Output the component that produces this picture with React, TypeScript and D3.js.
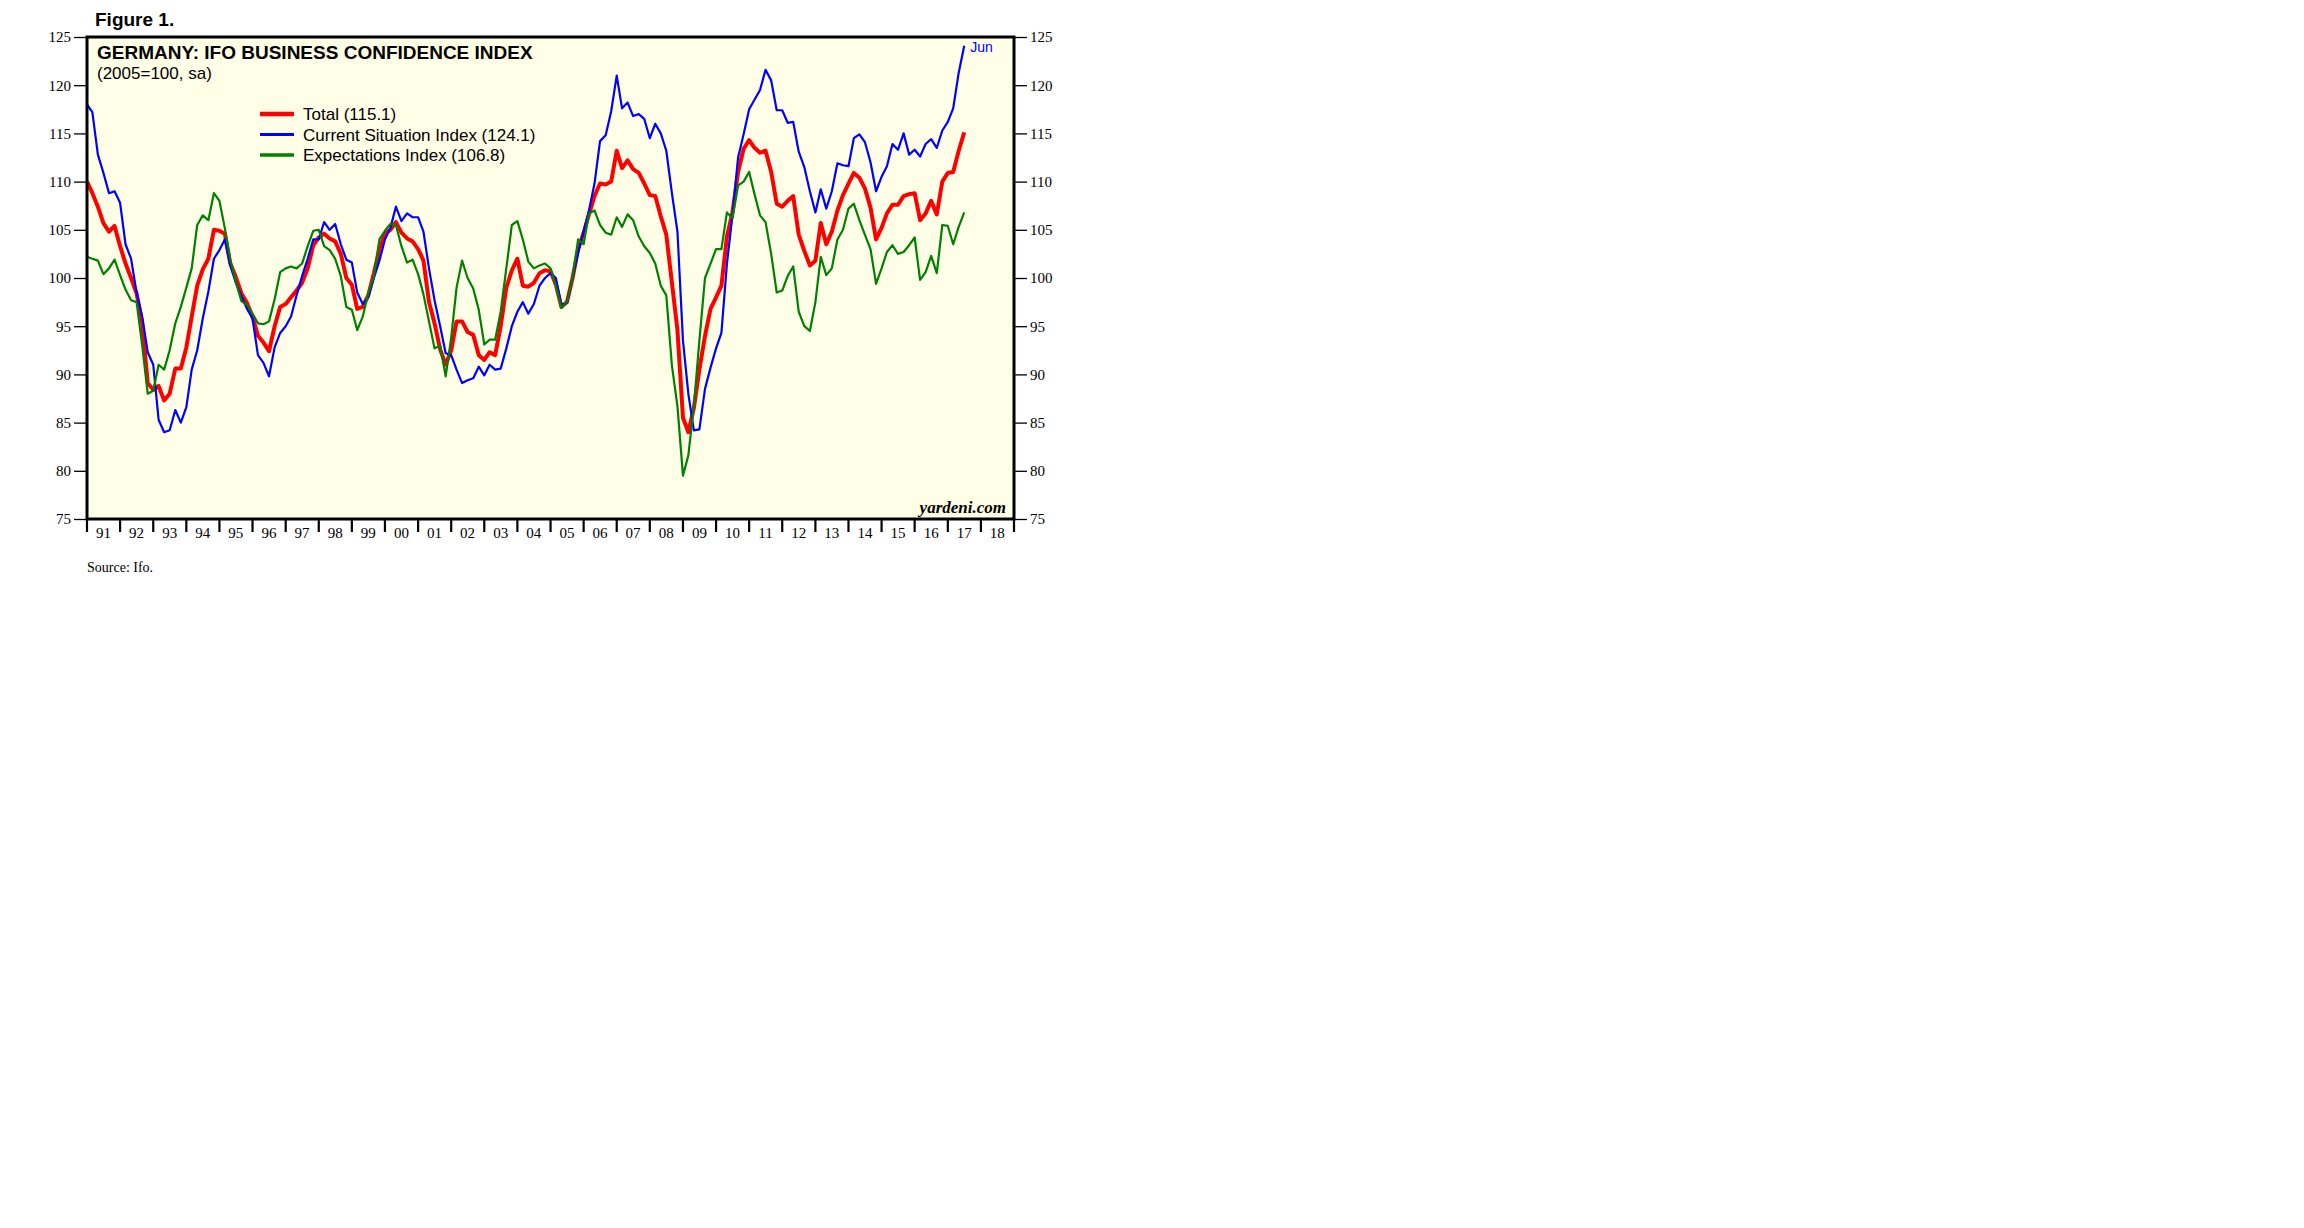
import React, { useEffect, useRef } from 'react';
import * as d3 from 'd3';

// Ifo indexes (2005=100, sa), read every second month, Jan 1991 .. Jun 2017
const total = [
  110.0, 108.8, 107.4, 105.7, 104.8, 105.4, // 91
  103.3, 101.5, 100.0, 98.4, 95.3, 89.1, // 92
  88.4, 88.8, 87.3, 88.0, 90.6, 90.6, // 93
  92.8, 96.0, 99.2, 100.9, 102.0, 105.0, // 94
  104.9, 104.6, 101.5, 100.1, 98.4, 97.4, // 95
  96.0, 94.0, 93.3, 92.4, 95.0, 97.0, // 96
  97.3, 98.0, 98.7, 99.5, 101.0, 103.4, // 97
  104.2, 104.6, 104.1, 103.8, 102.5, 100.0, // 98
  99.3, 96.8, 97.0, 98.2, 100.5, 103.0, // 99
  104.6, 105.0, 105.8, 104.7, 104.1, 103.8, // 00
  103.0, 101.8, 97.5, 95.3, 92.6, 91.0, // 01
  92.5, 95.5, 95.5, 94.4, 94.1, 92.0, // 02
  91.5, 92.3, 92.0, 95.0, 99.0, 100.8, // 03
  102.0, 99.2, 99.1, 99.5, 100.5, 100.8, // 04
  100.7, 99.3, 97.0, 97.5, 100.0, 103.0, // 05
  104.7, 106.6, 108.5, 109.8, 109.7, 110.0, // 06
  113.2, 111.4, 112.2, 111.3, 110.9, 109.8, // 07
  108.6, 108.5, 106.4, 104.5, 99.5, 94.6, // 08
  85.5, 84.0, 86.5, 90.5, 94.0, 96.8, // 09
  98.0, 99.2, 104.3, 106.8, 111.0, 113.4, // 10
  114.3, 113.5, 113.0, 113.2, 111.0, 107.7, // 11
  107.4, 108.0, 108.5, 104.5, 102.8, 101.3, // 12
  101.8, 105.7, 103.5, 104.8, 107.0, 108.6, // 13
  109.8, 110.9, 110.4, 109.3, 107.3, 104.0, // 14
  105.2, 106.7, 107.6, 107.6, 108.5, 108.7, // 15
  108.8, 106.0, 106.7, 108.0, 106.6, 110.0, // 16
  110.9, 111.0, 113.2, 115.1, // 17
];

const current = [
  118.0, 117.2, 112.8, 110.9, 108.8, 109.0,
  107.8, 103.5, 102.0, 98.5, 96.0, 92.3,
  91.0, 85.3, 84.0, 84.2, 86.3, 85.0,
  86.6, 90.5, 92.5, 95.8, 98.6, 102.0,
  102.9, 104.0, 101.3, 99.5, 98.1, 96.8,
  95.8, 92.0, 91.2, 89.8, 92.8, 94.3,
  95.0, 96.0, 98.2, 100.2, 102.0, 104.0,
  104.0, 105.8, 105.0, 105.6, 103.5, 101.9,
  101.6, 98.5, 97.3, 98.0, 100.0, 101.8,
  104.0, 105.2, 107.4, 105.9, 106.7, 106.3,
  106.3, 104.8, 101.0, 97.7, 95.0, 92.2,
  92.0, 90.5, 89.1, 89.4, 89.6, 90.8,
  89.9, 91.0, 90.5, 90.6, 92.7, 95.0,
  96.5, 97.5, 96.3, 97.3, 99.2, 100.0,
  100.5, 100.0, 97.2, 97.4, 100.0, 102.6,
  104.8, 107.0, 109.8, 114.2, 114.8, 117.3,
  121.0, 117.6, 118.2, 116.8, 117.0, 116.5,
  114.5, 116.0, 115.0, 113.2, 108.8, 104.8,
  93.5, 88.0, 84.2, 84.3, 88.5, 90.7,
  92.7, 94.3, 101.5, 106.5, 112.5, 114.9,
  117.5, 118.5, 119.5, 121.6, 120.5, 117.4,
  117.4, 116.1, 116.2, 113.1, 111.5, 109.0,
  106.8, 109.2, 107.2, 109.0, 111.9, 111.7,
  111.6, 114.5, 114.9, 114.1, 112.0, 109.0,
  110.5, 111.6, 113.9, 113.3, 115.0, 112.8,
  113.3, 112.6, 113.9, 114.4, 113.5, 115.3,
  116.2, 117.6, 121.3, 124.1,
];

const expectations = [
  102.2, 102.0, 101.8, 100.4, 101.0, 101.9,
  100.3, 98.8, 97.7, 97.5, 93.0, 88.0,
  88.3, 91.0, 90.5, 92.5, 95.3, 97.0,
  99.0, 101.0, 105.5, 106.5, 106.0, 108.8,
  108.0, 105.2, 101.9, 99.6, 97.6, 97.2,
  96.3, 95.3, 95.2, 95.5, 97.8, 100.6,
  101.0, 101.2, 101.0, 101.5, 103.3, 104.9,
  105.0, 103.3, 102.9, 102.0, 100.2, 97.0,
  96.7, 94.6, 96.0, 98.4, 100.2, 104.0,
  104.9, 105.6, 105.5, 103.3, 101.6, 101.9,
  100.4, 98.3, 95.5, 92.7, 93.0, 89.8,
  93.8, 99.0, 101.8, 100.0, 98.9, 96.7,
  93.1, 93.6, 93.6, 96.5, 101.0, 105.5,
  105.9, 104.0, 101.7, 101.0, 101.3, 101.5,
  101.0, 99.2, 96.9, 97.5, 100.0, 104.0,
  103.5, 106.7, 107.0, 105.5, 104.7, 104.5,
  106.3, 105.3, 106.6, 106.0, 104.3, 103.3,
  102.6, 101.5, 99.2, 98.2, 90.9, 86.7,
  79.5, 81.6, 86.7, 93.5, 100.0, 101.5,
  103.0, 103.0, 106.8, 106.2, 109.6, 110.0,
  111.0, 108.7, 106.5, 105.8, 102.5, 98.5,
  98.7, 100.2, 101.2, 96.5, 95.0, 94.5,
  97.5, 102.2, 100.3, 101.0, 104.0, 105.0,
  107.2, 107.7, 106.0, 104.5, 103.0, 99.4,
  101.0, 102.7, 103.4, 102.5, 102.7, 103.4,
  104.2, 99.8, 100.6, 102.3, 100.5, 105.5,
  105.4, 103.5, 105.3, 106.8,
];

const dates = d3.range(0, 320, 2).map(m => new Date(1991, m, 1));
const years = d3.range(1991, 2019);
const yearLabels = years.map(yr => String(yr).slice(2));
const yTicks = d3.range(75, 126, 5);

const series = [
  { name: 'Total (115.1)', values: total, color: '#ff0000', width: 4, legendWidth: 4.5 },
  { name: 'Current Situation Index (124.1)', values: current, color: '#0000ff', width: 2.2, legendWidth: 2.8 },
  { name: 'Expectations Index (106.8)', values: expectations, color: '#008000', width: 2.2, legendWidth: 3.5 },
];

const SERIF = '"Liberation Serif", "Times New Roman", serif';
const SANS = '"Liberation Sans", Arial, sans-serif';

const App: React.FC = () => {
  const svgRef = useRef<SVGSVGElement>(null);

  useEffect(() => {
    if (!svgRef.current) return;
    const svg = d3.select(svgRef.current);
    svg.selectAll('*').remove();

    const left = 87, right = 1014, top = 37, bottom = 519;

    const x = d3.scaleTime()
      .domain([new Date(1991, 0, 1), new Date(2019, 0, 1)])
      .range([left, right]);
    const y = d3.scaleLinear().domain([75, 125]).range([bottom, top]);

    svg.append('rect').attr('width', 2304).attr('height', 1228).attr('fill', '#fff');

    svg.append('text')
      .attr('x', 95).attr('y', 26)
      .attr('font-family', SANS).attr('font-weight', 'bold').attr('font-size', 19)
      .text('Figure 1.');

    // plot background
    svg.append('rect')
      .attr('x', left).attr('y', top)
      .attr('width', right - left).attr('height', bottom - top)
      .attr('fill', '#fffee6');

    svg.append('clipPath').attr('id', 'plotclip')
      .append('rect')
      .attr('x', left).attr('y', top)
      .attr('width', right - left).attr('height', bottom - top);

    const line = d3.line<number>()
      .x((_, i) => x(dates[i]))
      .y(d => y(d));

    const lines = svg.append('g').attr('clip-path', 'url(#plotclip)');
    series.forEach(s => {
      lines.append('path')
        .datum(s.values)
        .attr('d', line)
        .attr('fill', 'none')
        .attr('stroke', s.color)
        .attr('stroke-width', s.width)
        .attr('stroke-linejoin', 'round');
    });

    // frame
    svg.append('rect')
      .attr('x', left).attr('y', top)
      .attr('width', right - left).attr('height', bottom - top)
      .attr('fill', 'none').attr('stroke', '#000').attr('stroke-width', 3);

    // Y axes
    const yl = svg.append('g')
      .attr('transform', `translate(${left - 1},0)`)
      .call(d3.axisLeft(y).tickValues(yTicks).tickSize(12).tickPadding(3));
    const yr = svg.append('g')
      .attr('transform', `translate(${right + 1},0)`)
      .call(d3.axisRight(y).tickValues(yTicks).tickSize(12).tickPadding(3));
    [yl, yr].forEach(g => {
      g.select('.domain').remove();
      g.selectAll('line').attr('stroke', '#000').attr('stroke-width', 1.3);
      g.selectAll('text')
        .attr('font-family', SERIF).attr('font-size', 15).attr('fill', '#000');
    });

    // X axis: year ticks with labels between them
    const xa = svg.append('g').attr('transform', `translate(0,${bottom})`);
    xa.selectAll('line')
      .data(d3.range(1991, 2020))
      .enter().append('line')
      .attr('x1', d => x(new Date(d, 0, 1)))
      .attr('x2', d => x(new Date(d, 0, 1)))
      .attr('y1', 0).attr('y2', 13)
      .attr('stroke', '#000').attr('stroke-width', 2.2);
    xa.selectAll('text')
      .data(years)
      .enter().append('text')
      .attr('x', (d) => x(new Date(d, 6, 1)))
      .attr('y', 19)
      .attr('text-anchor', 'middle')
      .attr('font-family', SERIF).attr('font-size', 15)
      .text((_, i) => yearLabels[i]);

    // titles
    svg.append('text')
      .attr('x', 97).attr('y', 59)
      .attr('font-family', SANS).attr('font-weight', 'bold').attr('font-size', 19)
      .text('GERMANY: IFO BUSINESS CONFIDENCE INDEX');
    svg.append('text')
      .attr('x', 97).attr('y', 79)
      .attr('font-family', SANS).attr('font-size', 17)
      .text('(2005=100, sa)');

    // legend
    const lg = svg.append('g');
    series.forEach((s, i) => {
      const ly = 114 + i * 20.5;
      lg.append('line')
        .attr('x1', 260).attr('x2', 294).attr('y1', ly).attr('y2', ly)
        .attr('stroke', s.color).attr('stroke-width', s.legendWidth);
      lg.append('text')
        .attr('x', 303).attr('y', ly + 6)
        .attr('font-family', SANS).attr('font-size', 17)
        .text(s.name);
    });

    // end label
    const last = dates.length - 1;
    svg.append('text')
      .attr('x', x(dates[last]) + 6).attr('y', y(current[last]) + 6)
      .attr('font-family', SANS).attr('font-size', 14).attr('fill', '#0000ff')
      .text('Jun');

    svg.append('text')
      .attr('x', right - 8).attr('y', bottom - 6)
      .attr('text-anchor', 'end')
      .attr('font-family', SERIF).attr('font-style', 'italic').attr('font-weight', 'bold')
      .attr('font-size', 17)
      .text('yardeni.com');

    svg.append('text')
      .attr('x', 87).attr('y', 572)
      .attr('font-family', SERIF).attr('font-size', 14)
      .text('Source: Ifo.');
  }, []);

  return (
    <svg
      ref={svgRef}
      width={2304}
      height={1228}
      style={{ position: 'absolute', left: 0, top: 0, display: 'block' }}
    />
  );
};

export default App;
